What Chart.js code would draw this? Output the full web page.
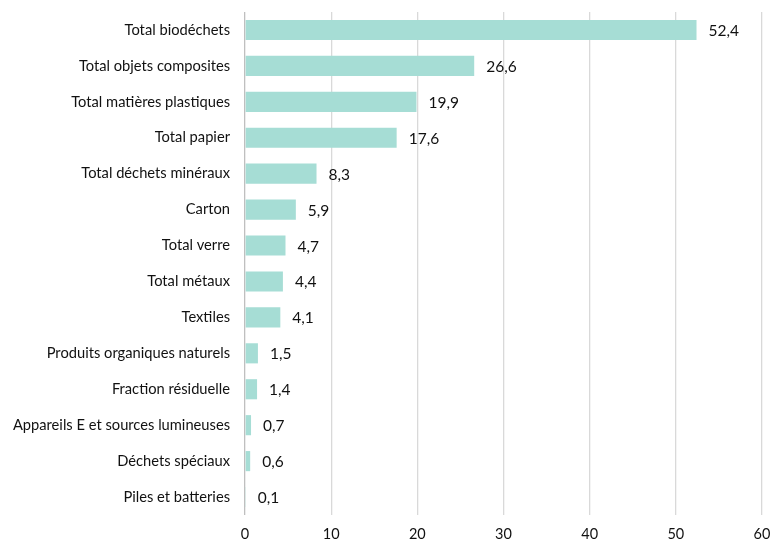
<!DOCTYPE html>
<html>
<head>
<meta charset="utf-8">
<script src="https://cdn.jsdelivr.net/npm/chart.js@4"></script>
<style>
  html, body { margin: 0; padding: 0; background: #fff; }
  #wrap { width: 773px; height: 541px; }
</style>
</head>
<body>
<div id="wrap"><canvas id="chart" width="773" height="541"></canvas></div>
<script>
// data
const categories = [
    "Total biodéchets", "Total objets composites", "Total matières plastiques",
    "Total papier", "Total déchets minéraux", "Carton", "Total verre",
    "Total métaux", "Textiles", "Produits organiques naturels",
    "Fraction résiduelle", "Appareils E et sources lumineuses",
    "Déchets spéciaux", "Piles et batteries"
];
const values = [52.4, 26.6, 19.9, 17.6, 8.3, 5.9, 4.7, 4.4, 4.1, 1.5, 1.4, 0.7, 0.6, 0.1];
const xTicks = [0, 10, 20, 30, 40, 50, 60];

const FONT = "Lato, 'Open Sans', sans-serif";
const BAR_COLOR = '#a6ddd5';

// value labels right of each bar, French decimal comma
const valueLabels = {
    id: 'valueLabels',
    afterDatasetsDraw(chart) {
        const ctx = chart.ctx;
        const meta = chart.getDatasetMeta(0);
        ctx.save();
        ctx.font = '15.5px ' + FONT;
        ctx.fillStyle = '#111';
        ctx.textAlign = 'left';
        ctx.textBaseline = 'middle';
        meta.data.forEach((bar, i) => {
            const txt = values[i].toFixed(1).replace('.', ',');
            ctx.fillText(txt, bar.x + 12, bar.y + 1);
        });
        ctx.restore();
    }
};

new Chart(document.getElementById('chart'), {
    type: 'bar',
    data: {
        labels: categories,
        datasets: [{
            data: values,
            backgroundColor: BAR_COLOR,
            borderWidth: 0,
            barPercentage: 0.56,
            categoryPercentage: 1.0
        }]
    },
    options: {
        indexAxis: 'y',
        responsive: false,
        animation: false,
        layout: { padding: { top: 12, right: 11, bottom: 0, left: 0 } },
        plugins: {
            legend: { display: false },
            tooltip: { enabled: false }
        },
        scales: {
            x: {
                min: 0,
                max: 60,
                afterBuildTicks(scale) {
                    scale.ticks = xTicks.map(v => ({ value: v }));
                },
                afterFit(scale) {
                    scale.height = 26;
                    scale.paddingLeft = 0;
                    scale.paddingRight = 0;
                },
                grid: {
                    color: c => (c.tick && c.tick.value === 0) ? '#bfbfbf' : '#d9d9d9',
                    lineWidth: 1.3,
                    drawTicks: false
                },
                border: { display: false },
                ticks: {
                    color: '#111',
                    font: { family: FONT, size: 14.5 },
                    padding: 11
                }
            },
            y: {
                afterFit(scale) {
                    scale.width = 245;
                    scale.paddingTop = 0;
                    scale.paddingBottom = 0;
                },
                grid: { display: false, drawTicks: false },
                border: { display: false },
                ticks: {
                    color: '#111',
                    font: { family: FONT, size: 14.7 },
                    padding: 15
                }
            }
        }
    },
    plugins: [valueLabels]
});
</script>
</body>
</html>
